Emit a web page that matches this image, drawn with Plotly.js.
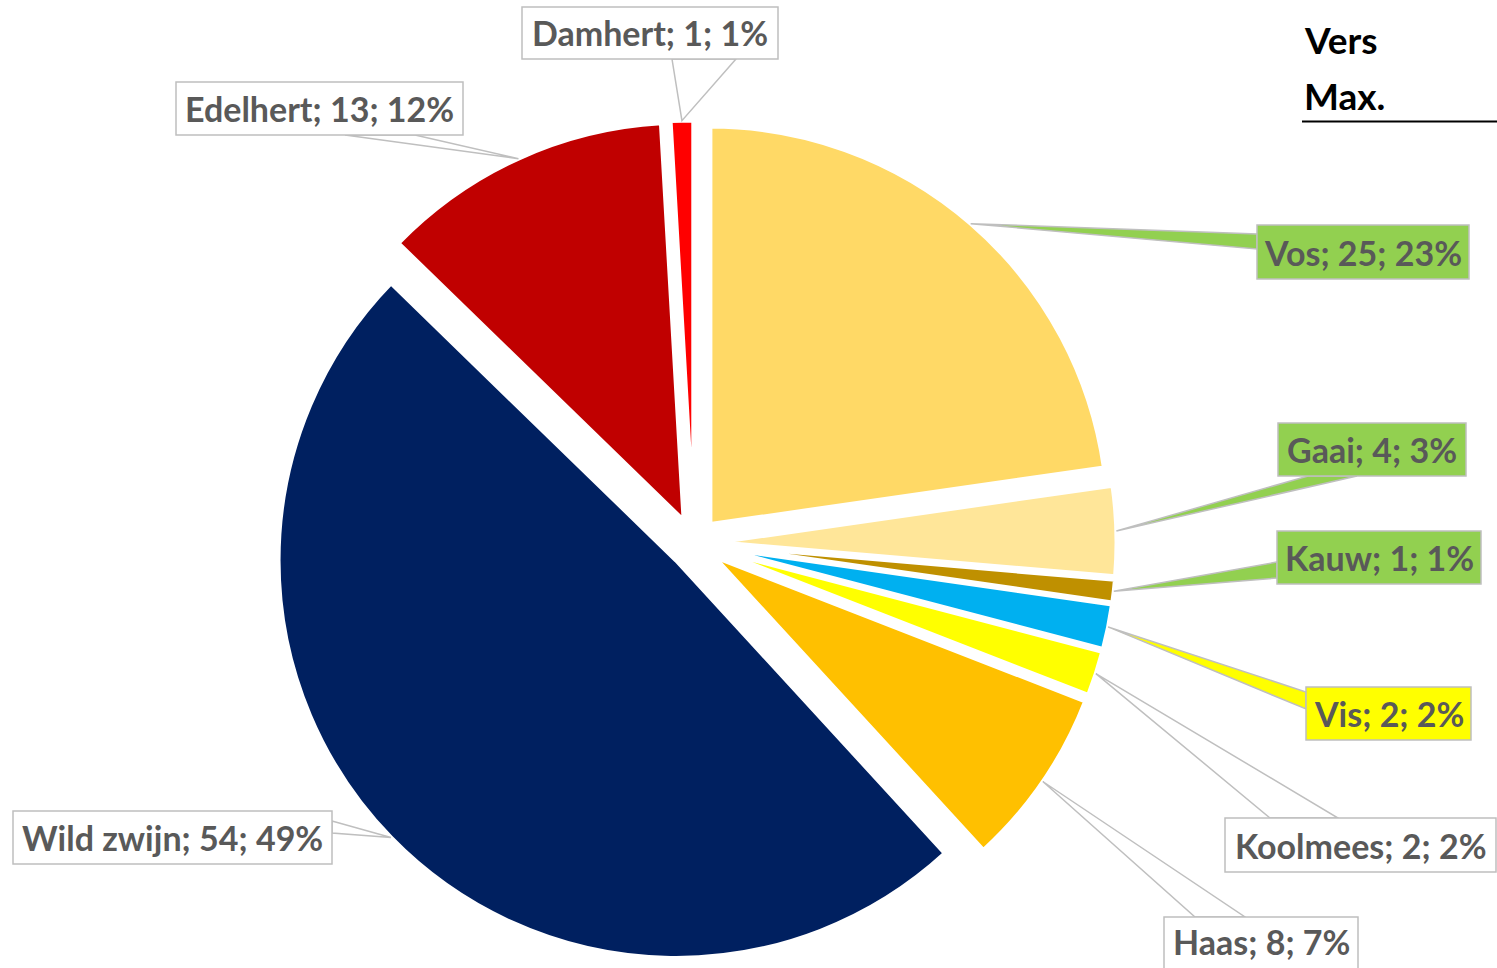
<!DOCTYPE html>
<html><head><meta charset="utf-8">
<script src="https://cdn.plot.ly/plotly-3.0.1.min.js"></script>
<style>html,body{margin:0;padding:0;background:#fff;overflow:hidden}#chart{width:1497px;height:968px;}</style>
</head><body><div id="chart"></div>
<script>
// ---- data ----
const species  = ["Vos","Gaai","Kauw","Vis","Koolmees","Haas","Wild zwijn","Edelhert","Damhert"];
const counts   = [25, 4, 1, 2, 2, 8, 54, 13, 1];
const percents = [23, 3, 1, 2, 2, 7, 49, 12, 1];
const sliceColors = ["#FFD966","#FFE699","#BF9000","#00B0F0","#FFFF00","#FFC000","#002060","#C00000","#FF0000"];
const titleLines = ["Vers", "Max."];

// ---- layout constants (pixels) ----
const W = 1497, H = 968;
const CX = 694, CY = 543, R = 397.5, PULL = 0.063;
const D = R * (2 + 2 * PULL);
const GREEN = "#92D050", YEL = "#FFFF00", WHITE = "#FFFFFF";
const labelBoxes = {
  "Vos":        {box:[1257,225,1469,279], att:[[1257,234],[1257,249]], fill:GREEN},
  "Gaai":       {box:[1278,423,1466,476], att:[[1308,476],[1357,476]], fill:GREEN},
  "Kauw":       {box:[1277,531,1481,584], att:[[1277,562],[1277,578]], fill:GREEN},
  "Vis":        {box:[1306,687,1471,740], att:[[1306,692],[1306,709]], fill:YEL},
  "Koolmees":   {box:[1225,818,1496,872], att:[[1270,818],[1338,818]], fill:WHITE},
  "Haas":       {box:[1164,917,1358,990], att:[[1195,917],[1245,917]], fill:WHITE, ty:941},
  "Wild zwijn": {box:[13,811,332,864],    att:[[332,821],[332,833]],   fill:WHITE},
  "Edelhert":   {box:[176,82,463,135],    att:[[345,135],[415,135]],   fill:WHITE},
  "Damhert":    {box:[522,7,778,59],      att:[[672,59],[736,59]],     fill:WHITE}
};
const LABEL_FONT = {family:"Lato, 'Open Sans', sans-serif", size:34, color:"#595959", weight:700};

const px = x => x / W;
const py = y => 1 - y / H;

const trace = {
  type: "pie",
  values: counts,
  labels: species,
  sort: false,
  direction: "clockwise",
  rotation: 0,
  pull: PULL,
  textinfo: "none",
  hoverinfo: "label+value+percent",
  showlegend: false,
  marker: {colors: sliceColors, line: {color: "#FFFFFF", width: 4}},
  domain: {x: [px(CX - D/2), px(CX + D/2)], y: [py(CY + D/2), py(CY - D/2)]}
};

const shapes = [];
const annotations = [];
const total = counts.reduce((a,b)=>a+b,0);
let cum = 0;
species.forEach((name, i) => {
  const f = (cum + counts[i] / 2) / total;
  cum += counts[i];
  const th = 2 * Math.PI * f;
  const rr = R * (1 + PULL);
  const ax = CX + rr * Math.sin(th), ay = CY - rr * Math.cos(th);
  const lb = labelBoxes[name];
  const [p1, p2] = lb.att;
  shapes.push({type:"path", xref:"paper", yref:"paper",
    path:`M ${px(ax)} ${py(ay)} L ${px(p1[0])} ${py(p1[1])} L ${px(p2[0])} ${py(p2[1])} Z`,
    fillcolor: lb.fill, line:{color:"#BFBFBF", width:1.5}});
  const [x0,y0,x1,y1] = lb.box;
  shapes.push({type:"rect", xref:"paper", yref:"paper",
    x0:px(x0), x1:px(x1), y0:py(y1), y1:py(y0),
    fillcolor: lb.fill, line:{color:"#BFBFBF", width:1.5}});
  const ty = lb.ty !== undefined ? lb.ty : (y0 + y1) / 2;
  annotations.push({xref:"paper", yref:"paper", x:px((x0+x1)/2), y:py(ty),
    xanchor:"center", yanchor:"middle", showarrow:false,
    text:`${name}; ${counts[i]}; ${percents[i]}%`, font: LABEL_FONT});
});

// title block top right
const titleY = [40, 95];
titleLines.forEach((t, k) => {
  annotations.push({xref:"paper", yref:"paper", x:px(1302), y:py(titleY[k]),
    xanchor:"left", yanchor:"middle", showarrow:false, text:t,
    font:{family:"Lato, 'Open Sans', sans-serif", size:37, color:"#000000", weight:700}});
});
shapes.push({type:"line", xref:"paper", yref:"paper", x0:px(1302), x1:px(1497), y0:py(121.5), y1:py(121.5),
  line:{color:"#000000", width:2}});

const layout = {
  width: W, height: H,
  margin: {l:0, r:0, t:0, b:0},
  paper_bgcolor: "#FFFFFF", plot_bgcolor: "#FFFFFF",
  showlegend: false,
  shapes, annotations
};
Plotly.newPlot("chart", [trace], layout, {displayModeBar:false, staticPlot:true});
</script>
</body></html>
